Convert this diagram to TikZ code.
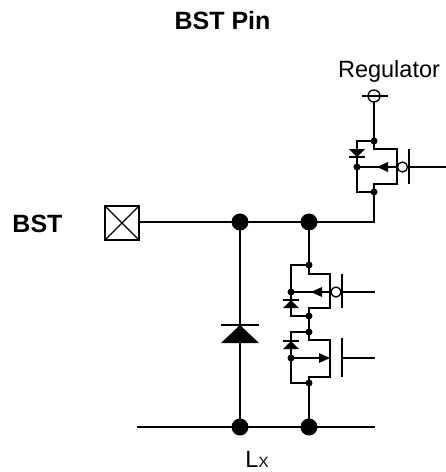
\documentclass[tikz,border=0pt]{standalone}
\usepackage{fontspec}
\setmainfont{Liberation Sans}
\usetikzlibrary{shapes,arrows}

\tikzset{
  bigdot/.style={fill=black},
  smalldot/.style={fill=black},
  label/.style={anchor=base, inner sep=0pt, font=\fontsize{23.5}{24}\selectfont},
  boldlabel/.style={label, font=\fontsize{25}{25}\selectfont\bfseries}
}

\begin{document}
\begin{tikzpicture}[x=1pt,y=-1pt,line width=1.3pt]
  \useasboundingbox (0,0) rectangle (446,472);
  % texts
  \node[boldlabel] (title) at (222.5,29.5) {BST Pin};
  \node[boldlabel] (bst) at (37.5,232) {BST};
  \node[label] (reg) at (389,77) {Regulator};
  \node[label] (lx) at (257,467) {L{\fontsize{15}{15}\selectfont X}};
  % junctions
  \coordinate (pad) at (139,222);
  \coordinate (jd) at (240,222);
  \coordinate (jc) at (309,222);
  \coordinate (jr) at (374,222);
  \coordinate (bl) at (137,427);
  \coordinate (kd) at (240,427);
  \coordinate (kc) at (309,427);
  \coordinate (br) at (375,427);
  \coordinate (term) at (374,102);
  \coordinate (q1t) at (374,141);
  \coordinate (q1b) at (374,192);
  \coordinate (q2t) at (309,265);
  \coordinate (q2b) at (309,316);
  \coordinate (q3t) at (309,332);
  \coordinate (q3b) at (309,383);
  % pad box
  \draw (105,206) rectangle (139,240);
  \draw (105,206) -- (139,240);
  \draw (105,240) -- (139,206);
  % regulator terminal
  \draw (374,96) circle(6);
  \draw (362,96) -- (388,96);
  % wires
  \draw (pad) -- (jr) -- (q1b);
  \draw (term) -- (q1t);
  \draw (bl) -- (br);
  \draw (jd) -- (kd);
  \draw (jc) -- (q2t);
  \draw (q2b) -- (q3t);
  \draw (q3b) -- (kc);
  % main diode
  \draw (221,325) -- (259,325);
  \fill (240,325) -- (221,343) -- (259,343) -- cycle;
  % upper PMOS
  \begin{scope}[shift={(q1t)}]
    \draw (0,0) -- (-17,0) -- (-17,51) -- (0,51);
    \draw (0,0) -- (0,8) -- (23,8) -- (23,43) -- (0,43) -- (0,51);
    \draw (-17,26) -- (23,26);
    \fill (3,26) -- (14,21) -- (14,31) -- cycle;
    \draw (28.5,26) circle(5);
    \draw (35,8) -- (35,43);
    \draw (34,26) -- (72,26);
    \fill (-25,8) -- (-9,8) -- (-17,16) -- cycle;
    \draw (-25,16) -- (-9,16);
    \fill[smalldot] (0,0) circle(3.5);
    \fill[smalldot] (0,51) circle(3.5);
    \fill[smalldot] (-17,26) circle(3.5);
  \end{scope}
  % PMOS in column
  \begin{scope}[shift={(q2t)}]
    \draw (0,0) -- (-18,0) -- (-18,51) -- (0,51);
    \draw (0,0) -- (0,9) -- (21,9) -- (21,43) -- (0,43) -- (0,51);
    \draw (-18,27) -- (21,27);
    \fill (2,27) -- (13,22) -- (13,32) -- cycle;
    \draw (27,27) circle(5);
    \draw (33,9) -- (33,43);
    \draw (32,27) -- (66,27);
    \draw (-26,35) -- (-10,35);
    \fill (-18,35) -- (-26,43) -- (-10,43) -- cycle;
    \fill[smalldot] (0,0) circle(3.5);
    \fill[smalldot] (0,51) circle(3.5);
    \fill[smalldot] (-18,27) circle(3.5);
  \end{scope}
  % NMOS in column
  \begin{scope}[shift={(q3t)}]
    \draw (0,0) -- (-18,0) -- (-18,51) -- (0,51);
    \draw (0,0) -- (0,8) -- (21,8) -- (21,45) -- (0,45) -- (0,51);
    \draw (-18,26) -- (10,26);
    \fill (21,26) -- (10,21) -- (10,31) -- cycle;
    \draw (33,6) -- (33,45);
    \draw (33,26) -- (66,26);
    \draw (-26,9) -- (-10,9);
    \fill (-18,9) -- (-26,17) -- (-10,17) -- cycle;
    \fill[smalldot] (0,0) circle(3.5);
    \fill[smalldot] (0,51) circle(3.5);
    \fill[smalldot] (-18,26) circle(3.5);
  \end{scope}
  % big dots
  \fill[bigdot] (jd) circle(8.5);
  \fill[bigdot] (jc) circle(8.5);
  \fill[bigdot] (kd) circle(8.5);
  \fill[bigdot] (kc) circle(8.5);
\end{tikzpicture}
\end{document}
